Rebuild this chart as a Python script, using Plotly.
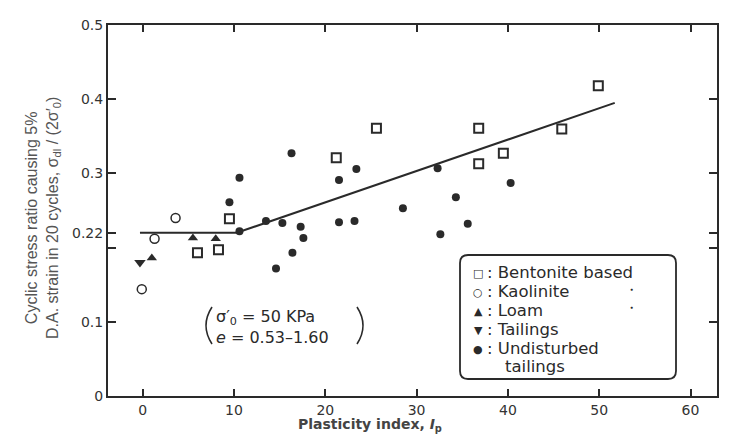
import plotly.graph_objects as go

# ---- data ----
bent_x = [6.0, 8.3, 9.5, 21.2, 25.6, 36.8, 36.8, 39.5, 45.9, 49.9]
bent_y = [0.193, 0.197, 0.239, 0.321, 0.361, 0.361, 0.313, 0.327, 0.360, 0.418]

kaol_x = [3.6, 1.3, -0.1]
kaol_y = [0.240, 0.212, 0.144]

loam_x = [1.0, 8.0, 5.5]
loam_y = [0.186, 0.212, 0.213]

tail_x = [-0.3]
tail_y = [0.180]

und_x = [9.5, 10.6, 10.6, 13.5, 15.3, 14.6, 16.4, 17.3, 17.6, 16.3,
         21.5, 21.5, 23.4, 23.2, 28.5, 32.3, 32.6, 34.3, 35.6, 40.3]
und_y = [0.261, 0.294, 0.222, 0.236, 0.233, 0.172, 0.193, 0.228, 0.213, 0.327,
         0.291, 0.234, 0.306, 0.236, 0.253, 0.307, 0.218, 0.268, 0.232, 0.287]

trend_x = [-0.3, 10.3, 51.7]
trend_y = [0.22, 0.22, 0.395]

x_ticks = [0, 10, 20, 30, 40, 50, 60]
y_ticks = [0, 0.1, 0.2, 0.22, 0.3, 0.4, 0.5]
y_ticktext = ["0", "0.1", "", "0.22", "0.3", "0.4", "0.5"]

legend_symbols = ["□", "○", "▲", "▼", "●"]
legend_labels = [": Bentonite based", ": Kaolinite", ": Loam", ": Tailings", ": Undisturbed"]
legend_extra = "tailings"

# ---- layout geometry (pixels) ----
W, H = 730, 434
L, R, T, B = 108, 717, 25, 396


def px(xp):
    return (xp - L) / (R - L)


def py(yp):
    return (B - yp) / (B - T)


INK = "#2a2a2a"
fig = go.Figure()

fig.add_trace(go.Scatter(x=trend_x, y=trend_y, mode="lines",
                         line=dict(color=INK, width=2), hoverinfo="skip"))
fig.add_trace(go.Scatter(x=bent_x, y=bent_y, mode="markers", name="Bentonite based",
                         marker=dict(symbol="square-open", size=9, color=INK, line=dict(width=2))))
fig.add_trace(go.Scatter(x=kaol_x, y=kaol_y, mode="markers", name="Kaolinite",
                         marker=dict(symbol="circle-open", size=9, color=INK, line=dict(width=1.5))))
fig.add_trace(go.Scatter(x=loam_x, y=loam_y, mode="markers", name="Loam",
                         marker=dict(symbol="triangle-up", size=9, color=INK)))
fig.add_trace(go.Scatter(x=tail_x, y=tail_y, mode="markers", name="Tailings",
                         marker=dict(symbol="triangle-down", size=10, color=INK)))
fig.add_trace(go.Scatter(x=und_x, y=und_y, mode="markers", name="Undisturbed tailings",
                         marker=dict(symbol="circle", size=8, color=INK)))

annotations = []
LEGFONT = dict(family="DejaVu Sans", size=16.5, color=INK)
leg_y = [273, 292, 311, 330, 349]
for i, (s, lab) in enumerate(zip(legend_symbols, legend_labels)):
    annotations.append(dict(xref="paper", yref="paper", x=px(478), y=py(leg_y[i]),
                            text=s, showarrow=False, xanchor="center", yanchor="middle",
                            font=dict(family="DejaVu Sans", size=11, color=INK)))
    annotations.append(dict(xref="paper", yref="paper", x=px(485), y=py(leg_y[i] - 1),
                            text=lab, showarrow=False, xanchor="left", yanchor="middle",
                            font=LEGFONT))
annotations.append(dict(xref="paper", yref="paper", x=px(503), y=py(366),
                        text=legend_extra, showarrow=False, xanchor="left", yanchor="middle",
                        font=LEGFONT))
# stray dots in legend
for yy in [294, 312]:
    annotations.append(dict(xref="paper", yref="paper", x=px(635), y=py(yy), text="●",
                            showarrow=False, font=dict(size=5, color=INK)))

# condition note
annotations.append(dict(xref="paper", yref="paper", x=px(214), y=py(317),
                        text="σ′<sub>0</sub> = 50 KPa", showarrow=False, xanchor="left",
                        yanchor="middle", font=dict(family="DejaVu Sans", size=16, color=INK)))
annotations.append(dict(xref="paper", yref="paper", x=px(214), y=py(337),
                        text="<i>e</i> = 0.53–1.60", showarrow=False, xanchor="left",
                        yanchor="middle", font=dict(family="DejaVu Sans", size=16, color=INK)))

# axis titles
annotations.append(dict(xref="paper", yref="paper", x=px(43), y=py(218),
                        text="Cyclic stress ratio causing 5%<br>D.A. strain in 20 cycles, σ<sub>dl</sub> / (2σ′<sub>0</sub>)",
                        showarrow=False, textangle=-90, xanchor="center", yanchor="middle",
                        font=dict(family="Liberation Sans", size=16, color="#555")))
annotations.append(dict(xref="paper", yref="paper", x=px(370), y=py(425),
                        text="<b>Plasticity index, <i>I</i><sub>p</sub></b>",
                        showarrow=False, xanchor="center", yanchor="middle",
                        font=dict(family="DejaVu Sans", size=14, color="#444")))

# rounded legend frame
x0, x1, y0, y1 = 460, 676, 255, 379
r = 8
rx, ry = r / (R - L), r / (B - T)
X0, X1, Y0, Y1 = px(x0), px(x1), py(y1), py(y0)
path = (f"M {X0+rx},{Y0} L {X1-rx},{Y0} Q {X1},{Y0} {X1},{Y0+ry} L {X1},{Y1-ry} "
        f"Q {X1},{Y1} {X1-rx},{Y1} L {X0+rx},{Y1} Q {X0},{Y1} {X0},{Y1-ry} "
        f"L {X0},{Y0+ry} Q {X0},{Y0} {X0+rx},{Y0} Z")
shapes = [dict(type="path", xref="paper", yref="paper", path=path,
               line=dict(color=INK, width=1.8), fillcolor="white", layer="below")]
# parentheses around the note
for xa, xc in [(212, 200), (357, 369)]:
    shapes.append(dict(type="path", xref="paper", yref="paper",
                       path=f"M {px(xa)},{py(307)} Q {px(xc)},{py(325.5)} {px(xa)},{py(344)}",
                       line=dict(color=INK, width=1.6)))

fig.update_layout(
    width=W, height=H,
    margin=dict(l=L, r=W - R, t=T, b=H - B),
    paper_bgcolor="white", plot_bgcolor="white",
    showlegend=False,
    annotations=annotations, shapes=shapes,
    xaxis=dict(range=[-3.8, 62.9], tickvals=x_ticks, ticks="inside", ticklen=7,
               tickwidth=1.5, tickcolor=INK, showline=True, linecolor=INK, linewidth=2,
               mirror="ticks", showgrid=False, zeroline=False,
               tickfont=dict(family="DejaVu Sans", size=14, color="#333")),
    yaxis=dict(range=[0, 0.5], tickvals=y_ticks, ticktext=y_ticktext, ticks="inside",
               ticklen=8, tickwidth=1.5, tickcolor=INK, showline=True, linecolor=INK,
               linewidth=2, mirror="ticks", showgrid=False, zeroline=False,
               tickfont=dict(family="DejaVu Sans", size=14, color="#333")),
)

fig.write_html("out.html")
